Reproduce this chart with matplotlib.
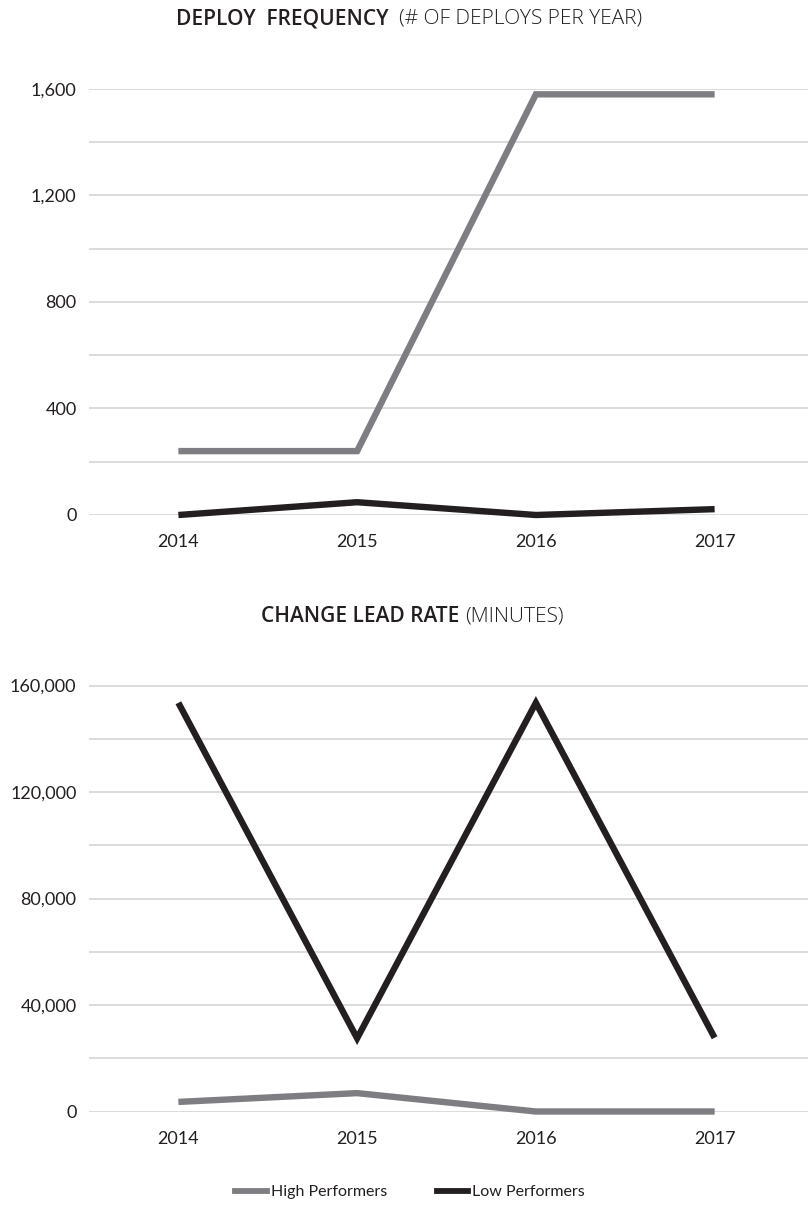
import matplotlib
matplotlib.use("Agg")
import matplotlib.pyplot as plt
from matplotlib.lines import Line2D

years = ["2014", "2015", "2016", "2017"]
deploy_high = [240, 240, 1580, 1580]
deploy_low = [0, 48, 0, 22]
lead_high = [3600, 6900, 0, 0]
lead_low = [153500, 27500, 153500, 27700]

deploy_ticks = [0, 400, 800, 1200, 1600]
lead_ticks = [0, 40000, 80000, 120000, 160000]

GRAY = "#7e7d81"
BLACK = "#231f20"
GRID = "#d6d6d6"
TXT = "#231f20"

plt.rcParams['font.family'] = ['Lato', 'DejaVu Sans']

W, H = 808, 1211
fig = plt.figure(figsize=(W / 100, H / 100), dpi=100)

CAT_PX = 178.75  # pixel width of one category slot
LEFT_PX = 89

def px_ax(left, right, top, bottom):
    return fig.add_axes([left / W, 1 - bottom / H, (right - left) / W, (bottom - top) / H])

def style(ax, ticks, ymax, minor_step):
    x = range(len(years))
    ax.set_xlim(-0.5, -0.5 + (W - LEFT_PX) / CAT_PX)
    ax.set_ylim(0, ymax)
    ax.set_xticks(list(x))
    ax.set_xticklabels(years)
    ax.set_yticks(ticks)
    ax.set_yticklabels([f"{t:,}" for t in ticks])
    ax.set_yticks([t + minor_step for t in ticks[:-1]], minor=True)
    for s in ax.spines.values():
        s.set_visible(False)
    ax.tick_params(axis='both', which='both', length=0, labelsize=13, labelcolor=TXT)
    ax.tick_params(axis='x', pad=14)
    ax.tick_params(axis='y', pad=9)
    ax.grid(axis='y', which='both', color=GRID, linewidth=1.2)
    ax.set_axisbelow(True)

LW = 4.6
x = list(range(len(years)))

ax1 = px_ax(LEFT_PX, W, 89, 515)
style(ax1, deploy_ticks, 1600, 200)
ax1.plot(x, deploy_high, color=GRAY, lw=LW, clip_on=False, solid_joinstyle='miter', solid_capstyle='butt')
ax1.plot(x, deploy_low, color=BLACK, lw=LW, clip_on=False, solid_joinstyle='miter', solid_capstyle='butt')

ax2 = px_ax(LEFT_PX, W, 685.5, 1111.5)
style(ax2, lead_ticks, 160000, 20000)
ax2.plot(x, lead_high, color=GRAY, lw=LW, clip_on=False, solid_joinstyle='miter', solid_capstyle='butt')
ax2.plot(x, lead_low, color=BLACK, lw=LW, clip_on=False, solid_joinstyle='miter', solid_capstyle='butt')

# titles with bold + light parts
TFONT = ['Open Sans', 'DejaVu Sans']
TSIZE = 15
def title(bold, light, baseline_px, cx):
    y = 1 - baseline_px / H
    t1 = fig.text(0, y, bold, fontsize=TSIZE, fontweight='semibold', family=TFONT, color=TXT, va='baseline', ha='left')
    t2 = fig.text(0, y, light, fontsize=TSIZE, fontweight='light', family=TFONT, color=TXT, va='baseline', ha='left')
    fig.canvas.draw()
    r = fig.canvas.get_renderer()
    w1 = t1.get_window_extent(r).width
    w2 = t2.get_window_extent(r).width
    total = w1 + w2
    x0 = cx - total / 2
    t1.set_x(x0 / W)
    t2.set_x((x0 + w1) / W)

title("DEPLOY  FREQUENCY  ", "(# OF DEPLOYS PER YEAR)", 24, 409)
title("CHANGE LEAD RATE ", "(MINUTES)", 622, 412)

handles = [Line2D([], [], color=GRAY, lw=4.2), Line2D([], [], color=BLACK, lw=4.2)]
fig.legend(handles, ["High Performers", "Low Performers"], loc='center',
           bbox_to_anchor=(410 / W, 1 - 1192 / H), ncol=2, frameon=False,
           fontsize=11.5, handlelength=2.0, handletextpad=0.25, columnspacing=3.1,
           labelcolor=TXT)

fig.savefig("out.png", dpi=100, facecolor='white')
